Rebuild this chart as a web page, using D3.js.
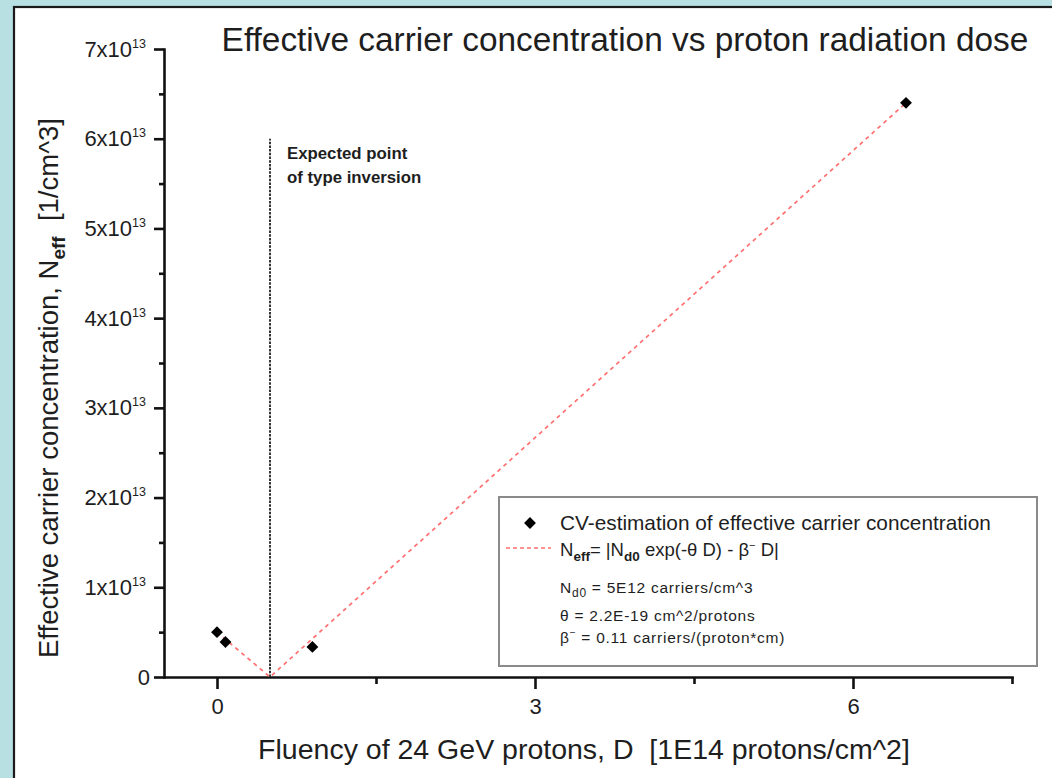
<!DOCTYPE html>
<html>
<head>
<meta charset="utf-8">
<script src="https://cdn.jsdelivr.net/npm/d3@7"></script>
<style>
  html, body { margin: 0; padding: 0; background: #b8dfe2; }
  svg { display: block; }
  text { font-family: "Liberation Sans", Arial, sans-serif; fill: #1e1e1e; white-space: pre; }
</style>
</head>
<body>
<svg id="chart" width="1052" height="778"></svg>
<script>
// Measured CV estimates of the effective carrier concentration
const fluence = [0, 0.08, 0.9, 6.5];           // 1E14 protons/cm^2
const neff = [5.0e12, 3.9e12, 3.35e12, 6.4e13]; // 1/cm^3

// Model curve |Nd0 exp(-θD) - β D| as drawn through the V
const fitFluence = [0, 0.5, 6.5];
const fitNeff = [5.0e12, 0, 6.4e13];

// Expected type-inversion marker
const inversionFluence = 0.5;
const inversionTop = 6.0e13;

const xMajorTicks = [0, 3, 6];
const xMinorTicks = [1.5, 4.5, 7.5];
const yMajorTicks = [0, 1e13, 2e13, 3e13, 4e13, 5e13, 6e13, 7e13];
const yMinorTicks = [0.5e13, 1.5e13, 2.5e13, 3.5e13, 4.5e13, 5.5e13, 6.5e13];

const FONT = "Liberation Sans, Arial, sans-serif";
const svg = d3.select("#chart");

// white panel with dark edge
svg.append("rect").attr("x", 14).attr("y", 7).attr("width", 1052).attr("height", 800)
  .attr("fill", "#ffffff").attr("stroke", "#1a1a1a").attr("stroke-width", 2.2);

const x = d3.scaleLinear().domain([-0.5, 7.5]).range([164, 1012]);
const y = d3.scaleLinear().domain([0, 7e13]).range([677, 49]);

// Title
svg.append("text").attr("x", 625).attr("y", 51).attr("text-anchor", "middle")
  .attr("font-size", 33.4).text("Effective carrier concentration vs proton radiation dose");

// X axis
const xAxisG = svg.append("g").attr("transform", `translate(0,${y(0)})`);
xAxisG.call(d3.axisBottom(x).tickValues(xMajorTicks).tickSize(12).tickSizeOuter(0).tickPadding(9)
  .tickFormat(d3.format("d")));
svg.append("g").attr("transform", `translate(0,${y(0)})`)
  .call(d3.axisBottom(x).tickValues(xMinorTicks).tickSize(7).tickSizeOuter(0).tickFormat(""))
  .select(".domain").remove();

// Y axis
const yAxisG = svg.append("g").attr("transform", `translate(${x(-0.5)},0)`);
yAxisG.call(d3.axisLeft(y).tickValues(yMajorTicks).tickSize(10).tickSizeOuter(0)
  .tickFormat(() => ""));
svg.append("g").attr("transform", `translate(${x(-0.5)},0)`)
  .call(d3.axisLeft(y).tickValues(yMinorTicks).tickSize(5).tickSizeOuter(0).tickFormat(""))
  .select(".domain").remove();

svg.selectAll(".domain, .tick line").attr("stroke", "#111").attr("stroke-width", 2.6);
svg.selectAll(".domain").attr("stroke-linecap", "square");

xAxisG.selectAll(".tick text").attr("font-size", 22).attr("fill", "#1e1e1e")
  .attr("font-family", FONT);

// y tick labels in a x10^n style
yAxisG.selectAll(".tick").each(function(d) {
  const t = d3.select(this).select("text").attr("font-size", 22).attr("fill", "#1e1e1e")
    .attr("font-family", FONT).attr("x", d === 0 ? -14 : -18).text(null);
  if (d === 0) { t.text("0"); return; }
  const exp = Math.floor(Math.log10(d));
  const mant = Math.round(d / Math.pow(10, exp));
  t.append("tspan").text(mant + "x10");
  t.append("tspan").attr("font-size", 12.5).attr("dy", -9).text(exp);
});

// Axis titles
svg.append("text").attr("x", 584).attr("y", 759).attr("text-anchor", "middle").attr("font-size", 28.5)
  .text("Fluency of 24 GeV protons, D  [1E14 protons/cm^2]");

const yTitle = svg.append("text").attr("transform", "translate(58,388) rotate(-90)")
  .attr("text-anchor", "middle").attr("font-size", 27.5);
yTitle.append("tspan").text("Effective carrier concentration, N");
yTitle.append("tspan").attr("font-size", 19).attr("font-weight", "bold").attr("dy", 7).text("eff");
yTitle.append("tspan").attr("dy", -7).text("  [1/cm^3]");

// Type inversion marker
svg.append("line")
  .attr("x1", x(inversionFluence)).attr("x2", x(inversionFluence))
  .attr("y1", y(0)).attr("y2", y(inversionTop))
  .attr("stroke", "#333").attr("stroke-width", 2).attr("stroke-dasharray", "2.5,1.2");
const note = svg.append("text").attr("x", x(inversionFluence) + 17).attr("y", 159)
  .attr("font-size", 16.8).attr("font-weight", "bold");
note.append("tspan").text("Expected point");
note.append("tspan").attr("x", x(inversionFluence) + 17).attr("dy", 24).text("of type inversion");

// Model curve
const line = d3.line().x(d => x(d[0])).y(d => y(d[1]));
svg.append("path").datum(d3.zip(fitFluence, fitNeff)).attr("d", line)
  .attr("fill", "none").attr("stroke", "#ff7070").attr("stroke-width", 1.7)
  .attr("stroke-dasharray", "4,4");

// Data points
const diamond = d3.symbol().type(d3.symbolSquare).size(70);
svg.append("g").selectAll("path").data(d3.zip(fluence, neff)).join("path")
  .attr("d", diamond)
  .attr("transform", d => `translate(${x(d[0])},${y(d[1])}) rotate(45)`)
  .attr("fill", "#000");

// Legend
const lg = svg.append("g");
lg.append("rect").attr("x", 499).attr("y", 497).attr("width", 538).attr("height", 169)
  .attr("fill", "#fff").attr("stroke", "#8a8a8a").attr("stroke-width", 2);
lg.append("path").attr("d", diamond).attr("transform", "translate(530,523) rotate(45)").attr("fill", "#000");
lg.append("text").attr("x", 560).attr("y", 530).attr("font-size", 20.8)
  .text("CV-estimation of effective carrier concentration");
lg.append("line").attr("x1", 506).attr("x2", 551).attr("y1", 548).attr("y2", 548)
  .attr("stroke", "#ff7070").attr("stroke-width", 1.7).attr("stroke-dasharray", "4,3");
const f = lg.append("text").attr("x", 560).attr("y", 556).attr("font-size", 18.5);
f.append("tspan").text("N");
f.append("tspan").attr("font-size", 13.5).attr("font-weight", "bold").attr("dy", 5).text("eff");
f.append("tspan").attr("dy", -5).text("= |N");
f.append("tspan").attr("font-size", 13.5).attr("font-weight", "bold").attr("dy", 5).text("d0");
f.append("tspan").attr("dy", -5).text(" exp(-θ D) - β");
f.append("tspan").attr("font-size", 11).attr("dy", -7).text("−");
f.append("tspan").attr("dy", 7).text(" D|");

const small = { size: 15.5, spacing: 0.75 };
const p1 = lg.append("text").attr("x", 560).attr("y", 593).attr("font-size", small.size)
  .attr("letter-spacing", small.spacing);
p1.append("tspan").text("N");
p1.append("tspan").attr("font-size", 12).attr("dy", 4).text("d0");
p1.append("tspan").attr("dy", -4).text(" = 5E12 carriers/cm^3");
lg.append("text").attr("x", 560).attr("y", 621).attr("font-size", small.size)
  .attr("letter-spacing", small.spacing).text("θ = 2.2E-19 cm^2/protons");
const p3 = lg.append("text").attr("x", 560).attr("y", 643).attr("font-size", small.size)
  .attr("letter-spacing", small.spacing);
p3.append("tspan").text("β");
p3.append("tspan").attr("font-size", 10).attr("dy", -7).text("−");
p3.append("tspan").attr("dy", 7).text(" = 0.11 carriers/(proton*cm)");
</script>
</body>
</html>
